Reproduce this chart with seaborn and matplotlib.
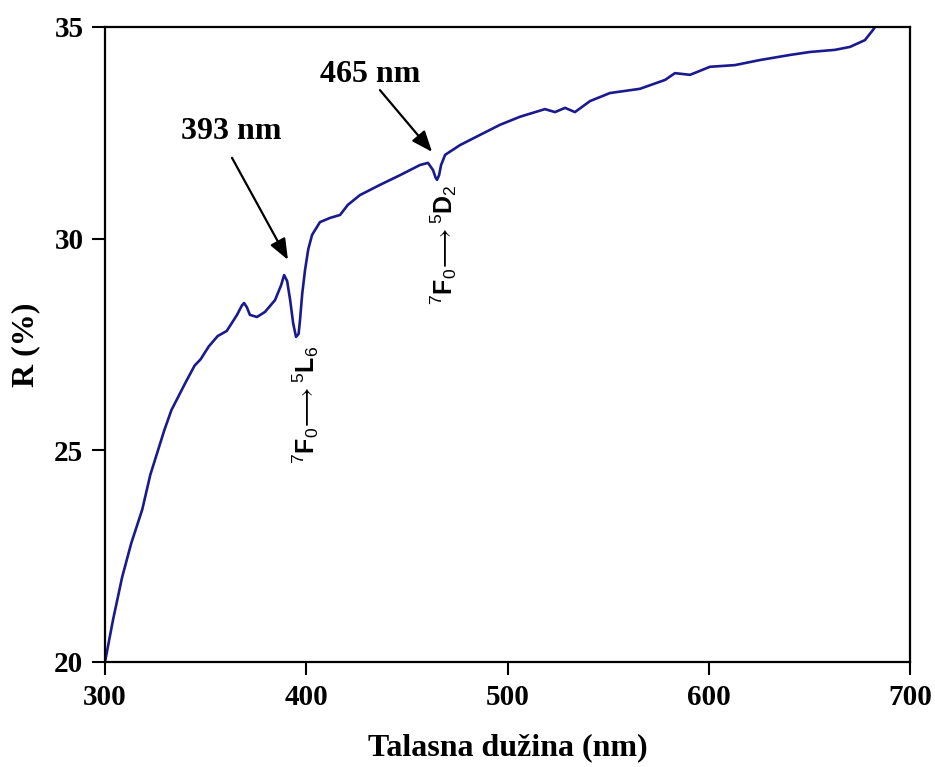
import numpy as np
import pandas as pd
import matplotlib
matplotlib.use("Agg")
import matplotlib.pyplot as plt
import seaborn as sns

wavelength = [300, 304, 308.5, 313, 318.5, 322.5, 329.5, 333, 340, 344.5, 347.5, 351.5,
              356, 360.5, 365.6, 368, 369.1, 370.5, 372, 375.5, 379.5, 384.5, 387.5, 389, 390.5,
              392, 393.5, 394.9, 396.2, 396.9, 398,
              399.4, 401, 402.9, 406.8, 411.8, 416.8, 420.7, 426.7, 436.6, 446.6, 456.5, 460.5,
              463, 464.2, 465, 466, 467, 469, 476.4, 486.3, 496.3, 506.2, 518.6, 523.6, 528.6, 533.5,
              541, 550.9, 565.8, 578.3, 583.2, 590.7, 600.6, 613, 625.5, 640.4, 650.3,
              662.7, 670.2, 677.6, 681.6, 682.6]
reflectance = [20.0, 21.0, 22.0, 22.8, 23.6, 24.42, 25.48, 25.95, 26.6, 27.0, 27.15, 27.45,
               27.7, 27.82, 28.2, 28.42, 28.48, 28.38, 28.2, 28.15, 28.27, 28.55, 28.9, 29.14, 29.0,
               28.55, 28.0, 27.68, 27.75, 28.08, 28.7,
               29.26, 29.75, 30.09, 30.39, 30.49, 30.56, 30.8, 31.03, 31.27, 31.5, 31.74, 31.79,
               31.62, 31.45, 31.39, 31.5, 31.74, 31.98, 32.21, 32.45, 32.69, 32.88, 33.06, 32.99, 33.09, 32.99,
               33.25, 33.44, 33.54, 33.75, 33.91, 33.87, 34.06, 34.1, 34.22, 34.34, 34.41,
               34.46, 34.53, 34.69, 34.93, 35.0]
x_ticks = [300, 400, 500, 600, 700]
y_ticks = [20, 25, 30, 35]
peak_labels = ["393 nm", "465 nm"]
transition_labels = [r"$^{7}\mathbf{F}_{0}\!\longrightarrow{}^{5}\mathbf{L}_{6}$",
                     r"$^{7}\mathbf{F}_{0}\!\longrightarrow{}^{5}\mathbf{D}_{2}$"]

df = pd.DataFrame({"wl": wavelength, "R": reflectance})

sns.set_theme(style="white")
plt.rcParams["font.family"] = ["Liberation Serif", "DejaVu Serif"]
plt.rcParams["text.color"] = "black"
plt.rcParams["axes.labelcolor"] = "black"
plt.rcParams["xtick.color"] = "black"
plt.rcParams["ytick.color"] = "black"
plt.rcParams["mathtext.fontset"] = "custom"
plt.rcParams["mathtext.rm"] = "Liberation Sans"
plt.rcParams["mathtext.bf"] = "Liberation Sans:bold"
plt.rcParams["mathtext.it"] = "Liberation Sans:italic"

fig = plt.figure(figsize=(9.35, 7.67), dpi=100)
ax = fig.add_axes([105/935, 1-662/767, 805/935, 635/767])
sns.lineplot(data=df, x="wl", y="R", ax=ax, color="#1a1a8f", linewidth=1.9)

ax.set_xlim(300, 700)
ax.set_ylim(20, 35)
ax.set_xticks(x_ticks)
ax.set_yticks(y_ticks)
ax.set_xticklabels([str(t) for t in x_ticks], fontsize=21, fontweight="bold")
ax.set_yticklabels([str(t) for t in y_ticks], fontsize=21, fontweight="bold")
ax.tick_params(axis="both", direction="out", length=9.5, width=1.5, bottom=True, left=True, pad=6)
for s in ax.spines.values():
    s.set_linewidth(1.6)
    s.set_color("black")
ax.set_xlabel("Talasna dužina (nm)", fontsize=23, fontweight="bold", labelpad=16)
ax.set_ylabel("R (%)", fontsize=23, fontweight="bold", labelpad=10)

arrow_style = dict(arrowstyle="-|>,head_length=0.55,head_width=0.22", color="black", lw=1.6,
                   shrinkA=0, shrinkB=0, mutation_scale=23)
ax.annotate("", xy=(390.9, 29.5), xytext=(363.1, 31.91), arrowprops=arrow_style)
ax.annotate("", xy=(462.5, 32.05), xytext=(436.6, 33.51), arrowprops=arrow_style)
ax.text(362.6, 32.54, peak_labels[0], fontsize=23, fontweight="bold", ha="center", va="center")
ax.text(431.7, 33.87, peak_labels[1], fontsize=23, fontweight="bold", ha="center", va="center")
ax.text(399.9, 26.07, transition_labels[0], rotation=90, fontsize=18, ha="center", va="center")
ax.text(468.4, 29.85, transition_labels[1], rotation=90, fontsize=18, ha="center", va="center")

fig.savefig("out.png", dpi=100)
